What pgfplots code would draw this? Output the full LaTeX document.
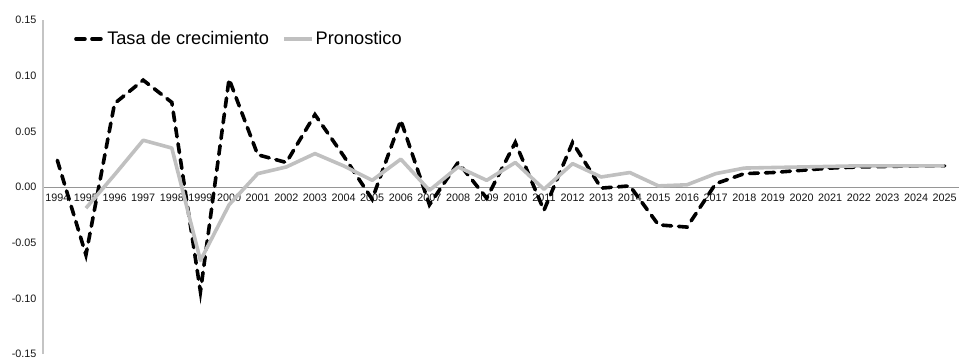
\documentclass[border=0pt]{standalone}
\usepackage{pgfplots}
\pgfplotsset{compat=1.18}
\usepackage{pgfplotstable}
\usepackage{fontspec}
\setmainfont{Liberation Sans}

\definecolor{pronogray}{RGB}{192,192,192}
\definecolor{axisgray}{RGB}{196,196,196}
\definecolor{zerogray}{RGB}{150,150,150}

% growth rate and forecast, year index 0 = 1994
\pgfplotstableread{
idx tasa
0  0.024
1  -0.061
2  0.075
3  0.096
4  0.076
5  -0.094
6  0.097
7  0.029
8  0.022
9  0.065
10 0.028
11 -0.011
12 0.060
13 -0.016
14 0.022
15 -0.010
16 0.040
17 -0.021
18 0.040
19 -0.001
20 0.001
21 -0.034
22 -0.036
23 0.003
24 0.012
25 0.013
26 0.015
27 0.017
28 0.018
29 0.0185
30 0.019
31 0.019
}\tasatable

\pgfplotstableread{
idx prono
1  -0.019
2  0.011
3  0.042
4  0.035
5  -0.066
6  -0.016
7  0.012
8  0.018
9  0.030
10 0.019
11 0.006
12 0.025
13 -0.003
14 0.018
15 0.006
16 0.022
17 -0.002
18 0.021
19 0.009
20 0.013
21 0.001
22 0.002
23 0.012
24 0.017
25 0.0175
26 0.018
27 0.0185
28 0.019
29 0.019
30 0.019
31 0.019
}\pronotable

\begin{document}
\begin{tikzpicture}[x=1pt,y=1pt]
\useasboundingbox (0,0) rectangle (959,360);
\begin{axis}[
  at={(43pt,6pt)}, anchor=south west,
  scale only axis,
  width=916pt, height=334pt,
  xmin=-0.5, xmax=31.5,
  ymin=-0.15, ymax=0.15,
  axis x line*=middle,
  axis y line*=left,
  x axis line style={-, draw=zerogray, line width=0.8pt},
  y axis line style={-, draw=axisgray, line width=1.8pt},
  xtick={0,...,31},
  xticklabels={1994,1995,1996,1997,1998,1999,2000,2001,2002,2003,2004,2005,2006,2007,2008,2009,2010,2011,2012,2013,2014,2015,2016,2017,2018,2019,2020,2021,2022,2023,2024,2025},
  ytick={-0.15,-0.10,-0.05,0,0.05,0.10,0.15},
  yticklabels={-0.15,-0.10,-0.05,0.00,0.05,0.10,0.15},
  major tick length=0pt,
  xticklabel style={font=\fontsize{10.8}{12}\selectfont, text=black!92, inner sep=1pt, yshift=-5.5pt},
  yticklabel style={font=\fontsize{10.8}{12}\selectfont, text=black!92, xshift=-3pt},
  clip=false,
  legend columns=2,
  legend style={draw=none, fill=none, at={(rel axis cs:0.0338,0.943)}, anchor=west,
    inner sep=0pt, font=\fontsize{18.2}{21}\selectfont,
    nodes={inner sep=1.5pt}},
  /tikz/every even column/.append style={column sep=12pt},
  legend image code/.code={\draw[#1] (0pt,0pt) -- (28pt,0pt);},
]
\addplot[black, line width=3.6pt, line cap=round, dash pattern=on 9pt off 7pt]
  table[x=idx, y=tasa] {\tasatable};
\addlegendentry{Tasa de crecimiento}
\addplot[pronogray, line width=3.6pt, line join=round]
  table[x=idx, y=prono] {\pronotable};
\addlegendentry{Pronostico}
\end{axis}
\end{tikzpicture}
\end{document}
